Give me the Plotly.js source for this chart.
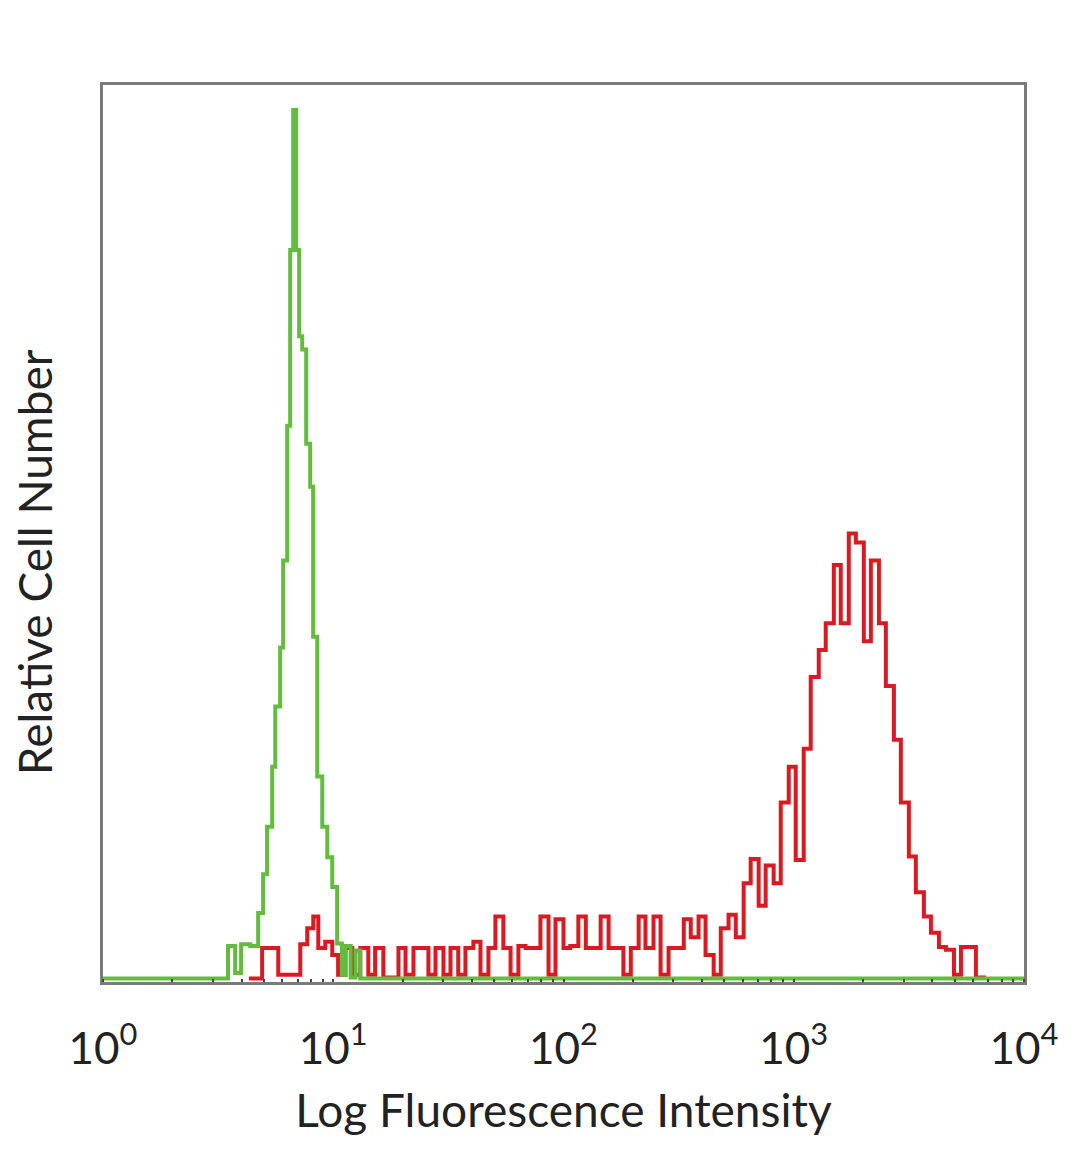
<!DOCTYPE html>
<html>
<head>
<meta charset="utf-8">
<script src="https://cdn.plot.ly/plotly-3.0.1.min.js"></script>
<style>html,body{margin:0;padding:0;background:#fff;}#chart{width:1080px;height:1169px;}</style>
</head>
<body>
<div id="chart"></div>
<script>
// Fluorescence intensity (bin start) and relative cell number, green (control) histogram
const greenX = [1, 3.49, 3.75, 3.98, 4.36, 4.72, 4.96, 5.16, 5.43, 5.60, 5.88, 6.06, 6.31, 6.50, 6.70, 6.90, 7.11, 7.33, 7.63, 7.94, 8.18, 8.52, 8.96, 9.42, 9.90, 10.4, 10.9, 11.3, 11.9, 12.5, 13.1, 10000];
const greenY = [0.4, 4.0, 1.0, 4.2, 4.0, 7.7, 12.0, 17.3, 24.0, 30.7, 37.3, 47.0, 62.0, 81.6, 97.2, 81.6, 72.0, 70.5, 60.0, 55.2, 38.5, 22.9, 17.3, 13.9, 10.6, 4.3, 0.8, 4.0, 0.5, 3.5, 0.4, 0.4];

// Red (stained) histogram
const redX = [4.3, 4.91, 5.77, 7.19, 7.71, 8.19, 8.61, 9.23, 9.90, 10.5, 11.3, 12.1, 13.1, 14.2, 15.2, 16.5, 19.2, 20.6, 22.3, 25.9, 27.8, 30.1, 32.3, 34.9, 37.5, 40.6, 43.6, 47.2, 50.6, 54.8, 58.9, 63.7, 68.4, 74.1, 79.4, 86.1, 92.3, 100, 107, 116, 125, 135, 145, 157, 168, 182, 196, 212, 227, 246, 264, 286, 307, 333, 357, 386, 414, 449, 482, 521, 560, 606, 650, 704, 755, 818, 878, 951, 1020, 1105, 1185, 1284, 1377, 1493, 1600, 1734, 1861, 2015, 2162, 2344, 2512, 2722, 2918, 3162, 3390, 3675, 3942, 4270, 4581, 4963, 5323, 5768, 6183, 6698];
const redY = [0.4, 3.8, 0.8, 4.2, 6.0, 7.3, 3.8, 4.5, 3.0, 0.8, 3.8, 0.8, 3.8, 0.8, 3.8, 0.5, 3.8, 0.8, 3.8, 0.8, 3.8, 0.8, 3.8, 0.8, 3.8, 4.5, 0.8, 3.8, 7.3, 3.8, 0.8, 4.0, 3.8, 3.8, 7.3, 0.8, 7.0, 3.8, 4.0, 7.3, 3.8, 3.8, 7.3, 3.8, 3.8, 0.8, 3.8, 7.3, 3.8, 7.3, 0.8, 3.8, 3.8, 7.0, 5.0, 7.3, 3.0, 0.8, 6.0, 7.5, 5.0, 11.0, 13.7, 8.5, 13.0, 11.0, 20.0, 24.0, 13.6, 26.0, 34.0, 37.0, 40.0, 46.5, 40.0, 50.0, 49.0, 38.0, 47.0, 40.0, 33.0, 27.0, 20.0, 14.0, 10.0, 7.3, 5.5, 3.9, 3.6, 0.8, 3.9, 3.9, 0.5, 0.4];

const tickVals = [1, 10, 100, 1000, 10000];
const tickText = ['10<sup>0</sup>', '10<sup>1</sup>', '10<sup>2</sup>', '10<sup>3</sup>', '10<sup>4</sup>'];

const traces = [
  {x: redX, y: redY, type: 'scatter', mode: 'lines', line: {shape: 'hv', color: 'rgb(218,26,34)', width: 4}, hoverinfo: 'skip'},
  {x: greenX, y: greenY, type: 'scatter', mode: 'lines', line: {shape: 'hv', color: 'rgb(98,188,62)', width: 4}, hoverinfo: 'skip'}
];

const fontFam = 'Lato, "Open Sans", sans-serif';
const layout = {
  width: 1080, height: 1169,
  margin: {l: 103, r: 56, t: 85, b: 187},
  paper_bgcolor: '#fff', plot_bgcolor: '#fff',
  showlegend: false,
  font: {family: fontFam, color: '#222'},
  xaxis: {
    type: 'log', range: [0, 4],
    tickvals: tickVals, ticktext: tickText,
    tickfont: {size: 44, family: fontFam, color: '#222'},
    ticks: 'outside', ticklen: 26, tickcolor: 'rgba(0,0,0,0)',
    showgrid: false, zeroline: false,
    showline: true, mirror: true, linecolor: '#7a7a7a', linewidth: 3,
    minor: {dtick: 'D1', ticks: 'inside', ticklen: 3, tickwidth: 2, tickcolor: '#444', showgrid: false},
    title: {text: 'Log Fluorescence Intensity', font: {size: 46, family: fontFam, color: '#222'}, standoff: 24}
  },
  yaxis: {
    range: [0, 100],
    showticklabels: false, ticks: '', showgrid: false, zeroline: false,
    showline: true, mirror: true, linecolor: '#7a7a7a', linewidth: 3
  },
  annotations: [{
    text: 'Relative Cell Number', textangle: -90,
    xref: 'paper', yref: 'paper', x: -0.075, y: 0.468,
    xanchor: 'center', yanchor: 'middle', showarrow: false,
    font: {size: 46, family: fontFam, color: '#222'}
  }]
};

Plotly.newPlot('chart', traces, layout, {staticPlot: true, displayModeBar: false});
</script>
</body>
</html>
